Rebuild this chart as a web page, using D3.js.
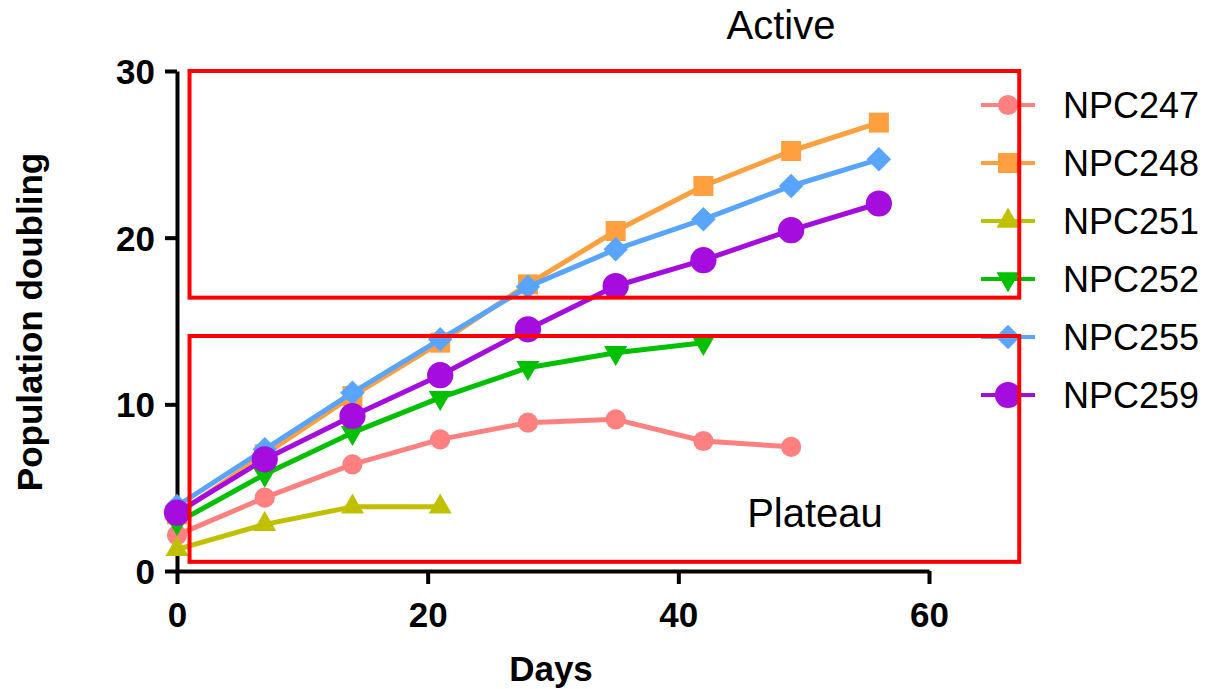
<!DOCTYPE html>
<html>
<head>
<meta charset="UTF-8">
<title>Population doubling</title>
<script src="https://cdn.jsdelivr.net/npm/d3@7"></script>
<style>
body { margin:0; background:#fff; }
.lbl { font-family: "Liberation Sans", Arial, sans-serif; }
</style>
</head>
<body>
<svg id="chart" width="1206" height="689"></svg>
<script>
var days = [0, 7, 14, 21, 28, 35, 42, 49, 56];
var seriesNames = ["NPC247", "NPC248", "NPC251", "NPC252", "NPC255", "NPC259"];
var npc247 = [2.15, 4.4, 6.4, 7.9, 8.9, 9.1, 7.8, 7.45];
var npc248 = [3.4, 7.0, 10.5, 13.7, 17.2, 20.4, 23.1, 25.2, 26.9];
var npc251 = [1.3, 2.8, 3.85, 3.85];
var npc252 = [2.9, 5.8, 8.3, 10.4, 12.2, 13.1, 13.7];
var npc255 = [3.9, 7.3, 10.7, 13.9, 17.05, 19.3, 21.1, 23.1, 24.7];
var npc259 = [3.5, 6.7, 9.3, 11.75, 14.5, 17.1, 18.65, 20.45, 22.05];
var xTicks = [0, 20, 40, 60];
var yTicks = [0, 10, 20, 30];
// boxes in data units: [x0, x1, y0, y1]
var activeBox = [1, 67.2, 16.4, 30];
var plateauBox = [1, 67.2, 0.55, 14.1];

var colors = ["#ff8080", "#ffa040", "#c0c000", "#00c000", "#58a4ff", "#a50ddf"];
var shapes = ["circle", "square", "tri", "tridown", "diamond", "bigcircle"];
var allValues = [npc247, npc248, npc251, npc252, npc255, npc259];

var svg = d3.select("#chart");
var x = d3.scaleLinear().domain([0, 60]).range([177, 929]);
var y = d3.scaleLinear().domain([0, 30]).range([571, 71]);

function symbolPath(shape) {
  if (shape == "circle") return d3.symbol(d3.symbolCircle, 320)();
  if (shape == "bigcircle") return d3.symbol(d3.symbolCircle, 540)();
  if (shape == "square") return d3.symbol(d3.symbolSquare, 400)();
  if (shape == "diamond") return d3.symbol(d3.symbolSquare, 300)();
  return d3.symbol(d3.symbolTriangle, 230)();
}
function symbolRot(shape) {
  if (shape == "diamond") return " rotate(45)";
  if (shape == "tridown") return " rotate(180)";
  return "";
}

// axes
var yAxis = svg.append("g").attr("transform", "translate(177,0)")
  .call(d3.axisLeft(y).tickValues(yTicks).tickSize(12).tickPadding(10).tickSizeOuter(0));
var xAxis = svg.append("g").attr("transform", "translate(0,571)")
  .call(d3.axisBottom(x).tickValues(xTicks).tickSize(13).tickPadding(8).tickSizeOuter(0));
[yAxis, xAxis].forEach(function(a) {
  a.select(".domain").attr("stroke", "#000").attr("stroke-width", 4);
  a.selectAll(".tick line").attr("stroke", "#000").attr("stroke-width", 4);
});
yAxis.selectAll(".tick text").attr("class", "lbl").attr("font-size", 35)
  .attr("font-weight", "bold").attr("fill", "#000").attr("dy", "0.36em");
xAxis.selectAll(".tick text").attr("class", "lbl").attr("font-size", 35)
  .attr("font-weight", "bold").attr("fill", "#000").attr("y", 0).attr("dy", 56);

svg.append("text").attr("class", "lbl").attr("x", 551).attr("y", 681)
  .attr("text-anchor", "middle").attr("font-size", 35).attr("font-weight", "bold")
  .text("Days");
svg.append("text").attr("class", "lbl")
  .attr("transform", "translate(42,322) rotate(-90)")
  .attr("text-anchor", "middle").attr("font-size", 35).attr("font-weight", "bold")
  .text("Population doubling");

// series
var line = d3.line().x(function(d) { return x(d.x); }).y(function(d) { return y(d.y); });
allValues.forEach(function(vals, i) {
  var pts = vals.map(function(v, j) { return {x: days[j], y: v}; });
  var g = svg.append("g");
  g.append("path").attr("d", line(pts)).attr("fill", "none")
    .attr("stroke", colors[i]).attr("stroke-width", 5).attr("stroke-linejoin", "round");
  g.selectAll(".pt").data(pts).enter().append("path")
    .attr("d", symbolPath(shapes[i])).attr("fill", colors[i])
    .attr("transform", function(d) { return "translate(" + x(d.x) + "," + y(d.y) + ")" + symbolRot(shapes[i]); });
});

// legend
var legendY = d3.scalePoint().domain(seriesNames).range([105, 395]);
seriesNames.forEach(function(name, i) {
  var ly = legendY(name);
  svg.append("line").attr("x1", 981).attr("x2", 1035).attr("y1", ly).attr("y2", ly)
    .attr("stroke", colors[i]).attr("stroke-width", 4);
  svg.append("path").attr("d", symbolPath(shapes[i])).attr("fill", colors[i])
    .attr("transform", "translate(1008," + ly + ")" + symbolRot(shapes[i]));
  svg.append("text").attr("class", "lbl").attr("x", 1063).attr("y", ly)
    .attr("dy", "0.36em").attr("font-size", 36).attr("fill", "#000").text(name);
});

// red boxes
[activeBox, plateauBox].forEach(function(b) {
  svg.append("rect").attr("x", x(b[0])).attr("y", y(b[3]))
    .attr("width", x(b[1]) - x(b[0])).attr("height", y(b[2]) - y(b[3]))
    .attr("fill", "none").attr("stroke", "#ff0000").attr("stroke-width", 4);
});
svg.append("text").attr("class", "lbl").attr("x", 781).attr("y", 39)
  .attr("text-anchor", "middle").attr("font-size", 40).text("Active");
svg.append("text").attr("class", "lbl").attr("x", 815).attr("y", 527)
  .attr("text-anchor", "middle").attr("font-size", 40).text("Plateau");
</script>
</body>
</html>
